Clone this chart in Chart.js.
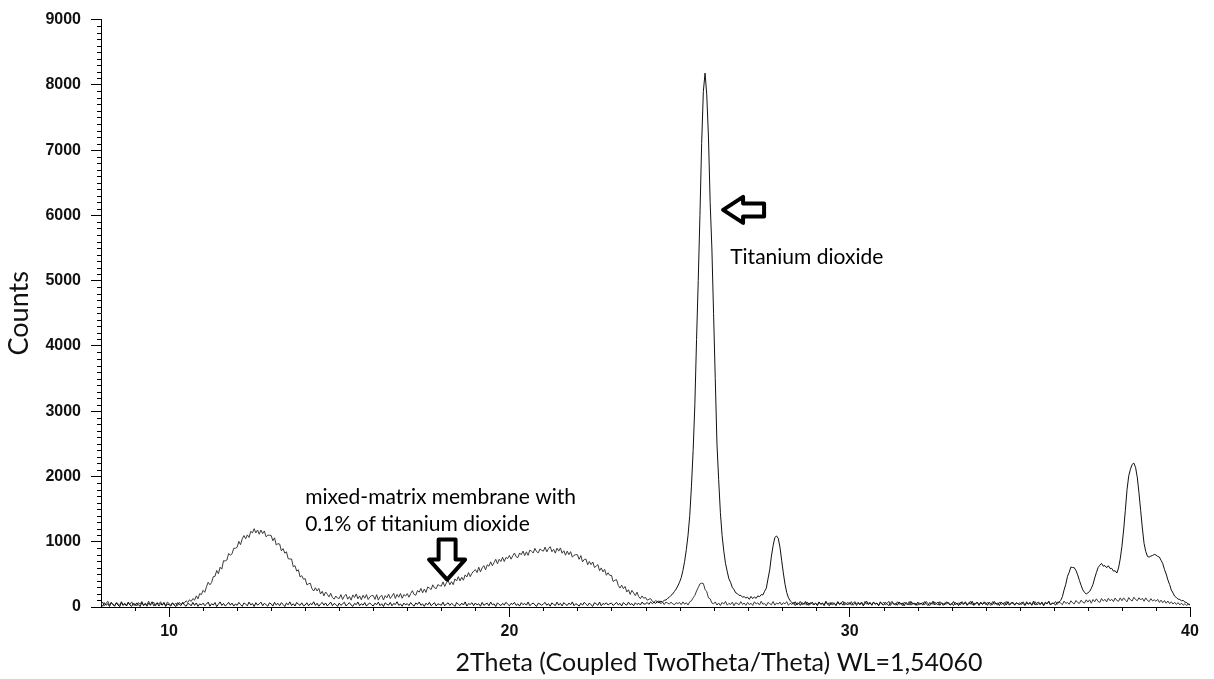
<!DOCTYPE html>
<html>
<head>
<meta charset="utf-8">
<script src="https://cdn.jsdelivr.net/npm/chart.js@4.4.1/dist/chart.umd.min.js"></script>
<style>
  html, body { margin: 0; padding: 0; background: #fff; }
  #wrap { width: 1214px; height: 679px; }
</style>
</head>
<body>
<div id="wrap"><canvas id="xrdChart" width="1214" height="679"></canvas></div>
<script>
// scan grid: 8..40 deg 2theta, 0.05 deg step
const twoTheta = Array.from({ length: 641 }, (_, i) => +(8 + i * 0.05).toFixed(2));

const xTickValues = [10, 20, 30, 40];
const yTickValues = [0, 1000, 2000, 3000, 4000, 5000, 6000, 7000, 8000, 9000];

// titanium dioxide powder (sharp peaks)
const tio2Counts = [].concat(
  [42,12,65,28,50,8,72,35,18,60,30,5,68,22,48,15,75,30,10,55], // 8
  [20,62,38,6,70,25,45,12,58,33,80,18,40,65,14,52,28,72,9,46], // 9
  [35,15,60,28,8,66,40,22,74,30,12,55,45,18,70,25,62,10,48,32], // 10
  [58,20,44,75,12,50,30,68,6,42,78,24,55,16,38,72,28,60,14,46], // 11
  [25,70,38,10,62,44,18,76,32,54,8,66,28,48,74,20,56,36,12,64], // 12
  [48,14,72,30,56,20,66,40,8,60,34,78,22,50,15,70,42,26,64,18], // 13
  [30,65,18,52,36,80,24,58,12,46,70,28,62,16,44,74,20,54,38,10], // 14
  [60,25,48,72,16,40,66,30,10,56,36,76,20,50,28,68,14,44,62,34], // 15
  [15,58,36,74,22,50,8,64,42,28,70,18,54,38,80,26,46,12,60,32], // 16
  [52,22,68,34,14,62,40,76,26,48,10,58,32,72,20,44,66,16,50,38], // 17
  [28,74,18,46,64,24,56,36,10,68,42,22,60,30,78,14,52,40,66,20], // 18
  [62,32,50,12,70,26,44,58,18,76,34,48,8,64,38,22,56,30,72,44], // 19
  [18,56,40,70,24,48,14,66,36,54,28,76,20,42,62,32,10,58,46,26], // 20
  [48,70,26,52,12,64,38,22,74,30,56,16,68,40,24,60,34,78,20,50], // 21
  [36,14,58,28,72,44,20,62,34,10,66,48,26,76,18,54,40,64,30,52], // 22
  [60,24,46,70,32,56,16,68,42,28,74,36,52,20,64,38,58,30,76,44], // 23
  [48,70,40,78,52,72,55,85,62,90,78,102,108,132,150,178,200,238,275,322], // 24
  [380,450,560,700,880,1100,1400,1850,2400,3100,4100,5000,6000,7100,7900,8180,7850,7200,6200,5500], // 25
  [4500,3500,2500,1950,1450,1100,860,670,548,432,378,302,268,218,205,178,176,152,158,138], // 26
  [150,118,162,128,155,132,170,158,190,185,242,288,432,568,780,940,1065,1088,1052,920], // 27
  [718,522,348,222,142,95,70,45,80,30,62,25,70,40,85,28,60,45,75,36], // 28
  [55,22,78,40,62,30,85,48,18,70,36,58,25,80,44,64,28,72,50,34], // 29
  [68,32,56,82,24,60,42,76,20,52,88,36,64,28,74,46,58,22,80,40], // 30
  [30,72,48,20,66,84,38,56,26,78,44,62,18,70,50,34,86,42,60,24], // 31
  [76,40,60,28,82,50,22,68,44,90,32,58,74,26,64,48,36,80,54,30], // 32
  [46,84,34,62,20,72,54,38,80,28,66,44,88,24,58,70,32,76,40,62], // 33
  [64,26,74,50,36,86,42,60,22,78,48,68,30,82,38,56,72,28,66,46], // 34
  [34,70,52,24,80,44,62,36,88,30,58,76,40,66,22,74,50,84,32,60], // 35
  [55,30,72,75,100,158,262,348,470,532,612,605,602,558,492,408,332,262,225,198], // 36
  [218,238,285,348,445,528,605,640,668,625,635,602,632,590,592,550,555,520,598,738], // 37
  [930,1180,1480,1800,2010,2110,2185,2205,2140,1990,1750,1480,1210,975,850,775,765,780,790,805], // 38
  [798,775,765,715,665,575,505,415,345,262,215,165,145,120,115,95,100,75,68,45], // 39
  [30] // 40
);

// mixed-matrix membrane with 0.1% TiO2 (amorphous humps)
const membraneCounts = [].concat(
  [40,75,18,56,88,25,62,45,12,70,50,28,82,35,58,20,66,38,78,30], // 8
  [52,16,68,40,84,22,60,34,90,26,55,72,14,64,44,80,30,58,20,74], // 9
  [52,28,66,35,60,22,70,40,55,62,95,70,110,85,130,105,170,125,205,190], // 10
  [255,225,310,380,340,375,465,470,560,510,610,580,710,705,720,820,795,815,900,900], // 11
  [915,1005,955,1045,1095,1045,1105,1065,1160,1135,1200,1135,1180,1115,1180,1125,1165,1075,1100,1100], // 12
  [1095,1015,1060,950,970,965,860,895,825,845,740,735,735,615,635,550,570,460,480,425], // 13
  [435,340,355,365,280,245,295,245,285,200,240,170,230,195,155,210,145,120,168,137], // 14
  [130,190,115,165,195,120,160,105,185,145,200,125,170,110,180,135,190,115,155,175], // 15
  [175,117,189,106,158,180,107,174,141,198,130,167,209,131,193,150,207,134,191,168], // 16
  [205,150,205,250,192,180,253,227,285,217,275,223,306,290,267,340,293,281,344,327], // 17
  [320,385,315,370,407,340,388,341,430,400,465,400,457,410,492,460,528,465,517,550], // 18
  [573,527,610,538,600,633,570,647,625,692,633,680,731,662,732,697,762,696,760,743], // 19
  [790,733,785,827,770,757,828,800,857,788,845,791,872,853,828,898,847,831,890,868], // 20
  [856,918,845,895,924,847,884,825,901,856,905,824,862,794,856,802,848,763,793,802], // 21
  [801,730,788,691,728,735,647,698,649,690,605,625,650,555,599,538,577,486,525,484], // 22
  [485,390,410,420,330,290,335,280,315,230,265,193,255,217,175,228,160,127,170,133], // 23
  [148,105,117,130,88,72,101,75,95,50,76,37,75,60,44,75,47,35,67,52], // 24
  [70,35,78,42,65,30,80,95,140,178,245,298,355,365,360,270,235,140,125,62], // 25
  [48,78,30,62,22,70,44,86,28,56,38,74,20,66,52,34,82,40,60,26], // 26
  [70,36,58,24,80,46,64,30,88,42,54,18,72,50,34,84,28,62,44,76], // 27
  [30,66,48,82,26,58,38,74,20,64,50,86,34,56,42,78,24,68,46,36], // 28
  [62,28,76,44,54,18,84,40,66,32,70,48,24,80,36,58,90,30,52,72], // 29
  [40,82,26,60,48,74,32,64,22,86,44,56,70,28,78,38,62,20,68,50], // 30
  [76,34,56,88,24,66,46,30,80,42,60,20,72,52,36,84,28,64,40,58], // 31
  [26,60,42,70,32,86,50,22,64,38,78,46,30,82,54,24,68,44,74,36], // 32
  [58,20,74,40,62,30,84,48,70,26,52,88,34,60,44,76,22,66,38,80], // 33
  [34,72,50,24,82,44,62,28,76,40,56,20,86,48,30,70,54,36,64,46], // 34
  [66,38,80,28,56,46,72,24,60,84,32,52,40,78,26,64,48,88,30,58], // 35
  [52,85,40,78,60,35,90,55,70,42,95,65,48,100,68,55,105,72,60,110], // 36
  [75,110,58,115,80,125,85,70,130,92,118,78,135,95,120,82,138,100,88,140], // 37
  [95,140,105,80,145,110,92,150,115,96,142,108,135,88,140,100,82,128,94,110], // 38
  [88,118,70,105,65,98,58,92,50,80,45,72,38,68,32,60,28,50,25,42], // 39
  [40] // 40
);

const FONT_TEXT = "Lato, 'Open Sans', sans-serif";
const FONT_TICK = "'Liberation Sans', Arial, sans-serif";

// arrows, labels and x title (title sits right of centre in the original)
const annotationPlugin = {
  id: "xrdNotes",
  afterDatasetsDraw(chart) {
    const { ctx, scales: { x, y } } = chart;
    ctx.save();

    // left-pointing arrow at TiO2 peak
    let tx = x.getPixelForValue(26.28), ty = y.getPixelForValue(6084);
    ctx.beginPath();
    ctx.moveTo(tx, ty);
    ctx.lineTo(tx + 20, ty - 13);
    ctx.lineTo(tx + 20, ty - 6.5);
    ctx.lineTo(tx + 41, ty - 6.5);
    ctx.lineTo(tx + 41, ty + 6.5);
    ctx.lineTo(tx + 20, ty + 6.5);
    ctx.lineTo(tx + 20, ty + 13);
    ctx.closePath();
    ctx.fillStyle = "#fff";
    ctx.fill();
    ctx.lineWidth = 4;
    ctx.lineJoin = "round";
    ctx.strokeStyle = "#000";
    ctx.stroke();

    // down arrow at membrane hump
    tx = x.getPixelForValue(18.17); ty = y.getPixelForValue(420);
    ctx.beginPath();
    ctx.moveTo(tx, ty);
    ctx.lineTo(tx - 18, ty - 20);
    ctx.lineTo(tx - 8.5, ty - 20);
    ctx.lineTo(tx - 8.5, ty - 40);
    ctx.lineTo(tx + 8.5, ty - 40);
    ctx.lineTo(tx + 8.5, ty - 20);
    ctx.lineTo(tx + 18, ty - 20);
    ctx.closePath();
    ctx.fill();
    ctx.stroke();

    ctx.fillStyle = "#000";
    ctx.font = "21px " + FONT_TEXT;
    ctx.textAlign = "left";
    ctx.textBaseline = "middle";
    ctx.fillText("Titanium dioxide", x.getPixelForValue(26.49), y.getPixelForValue(5354));
    ctx.fillText("mixed-matrix membrane with", x.getPixelForValue(14.0), y.getPixelForValue(1678));
    ctx.fillText("0.1% of titanium dioxide", x.getPixelForValue(14.0), y.getPixelForValue(1266));

    ctx.fillStyle = "#111";
    ctx.font = "25px " + FONT_TEXT;
    ctx.textAlign = "center";
    ctx.fillText("2Theta (Coupled TwoTheta/Theta) WL=1,54060", x.getPixelForValue(26.16), chart.height - 16);
    ctx.restore();
  },
};

// small ticks between the labelled ones
const minorTicksPlugin = {
  id: "minorTicks",
  afterDraw(chart) {
    const { ctx, chartArea, scales: { x, y } } = chart;
    ctx.save();
    ctx.strokeStyle = "#000";
    ctx.lineWidth = 1;
    ctx.beginPath();
    for (let v = 9; v < 40; v++) {
      if (v % 10 === 0) continue;
      const px = Math.round(x.getPixelForValue(v)) + 0.5;
      ctx.moveTo(px, chartArea.bottom);
      ctx.lineTo(px, chartArea.bottom + 4);
    }
    for (let v = 100; v < 9000; v += 100) {
      if (v % 1000 === 0) continue;
      const py = Math.round(y.getPixelForValue(v)) + 0.5;
      ctx.moveTo(chartArea.left - 4, py);
      ctx.lineTo(chartArea.left, py);
    }
    ctx.stroke();
    ctx.restore();
  },
};

const ctx = document.getElementById("xrdChart").getContext("2d");
const xrdChart = new Chart(ctx, {
  type: "line",
  data: {
    datasets: [
      {
        label: "Titanium dioxide",
        data: twoTheta.map((t, i) => ({ x: t, y: tio2Counts[i] })),
        borderColor: "#111",
        borderWidth: 1,
        pointRadius: 0,
        tension: 0,
      },
      {
        label: "Mixed-matrix membrane, 0.1% TiO2",
        data: twoTheta.map((t, i) => ({ x: t, y: membraneCounts[i] })),
        borderColor: "#3a3a3a",
        borderWidth: 1,
        pointRadius: 0,
        tension: 0,
      },
    ],
  },
  options: {
    responsive: false,
    animation: false,
    devicePixelRatio: 1,
    layout: { padding: { top: 17, right: 24, left: 0, bottom: 0 } },
    scales: {
      x: {
        type: "linear",
        min: 8,
        max: 40,
        afterBuildTicks: (s) => { s.ticks = xTickValues.map((v) => ({ value: v })); },
        afterFit: (s) => { s.height = 72; },
        grid: { drawOnChartArea: false, tickLength: 10, tickColor: "#000" },
        border: { color: "#000", width: 1 },
        ticks: {
          color: "#111",
          padding: 5,
          maxRotation: 0,
          callback: (v) => String(v),
          font: { family: FONT_TICK, size: 16, weight: "bold" },
        },
      },
      y: {
        min: 0,
        max: 9000,
        afterBuildTicks: (s) => { s.ticks = yTickValues.map((v) => ({ value: v })); },
        afterFit: (s) => { s.width = 101; },
        grid: { drawOnChartArea: false, tickLength: 10, tickColor: "#000" },
        border: { color: "#000", width: 1 },
        ticks: {
          color: "#111",
          padding: 10,
          callback: (v) => String(v),
          font: { family: FONT_TICK, size: 16, weight: "bold" },
        },
        title: {
          display: true,
          text: "Counts",
          color: "#111",
          font: { family: FONT_TEXT, size: 27 },
          padding: { top: 3, bottom: 0 },
        },
      },
    },
    plugins: {
      legend: { display: false },
      tooltip: { enabled: false },
    },
  },
  plugins: [annotationPlugin, minorTicksPlugin],
});
</script>
</body>
</html>
